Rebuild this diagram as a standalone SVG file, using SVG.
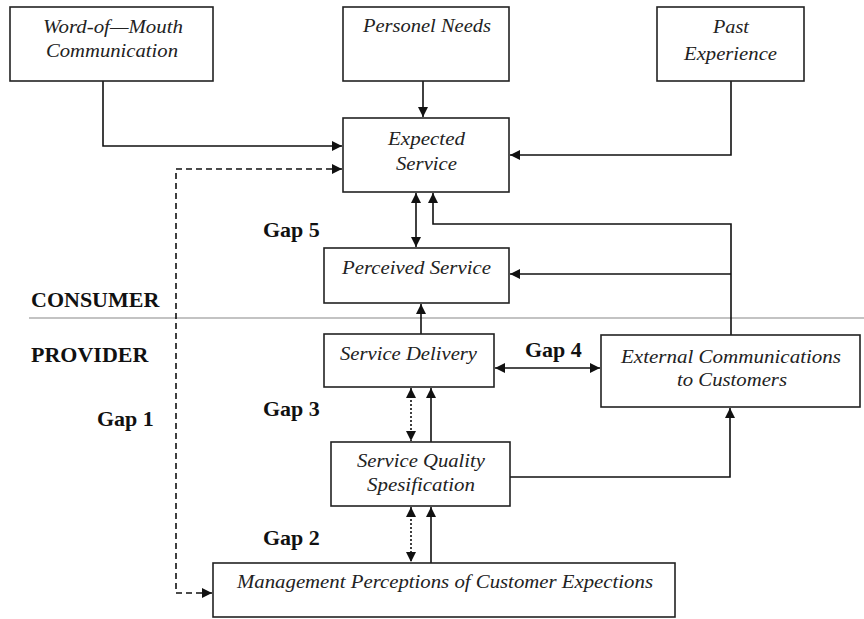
<svg xmlns="http://www.w3.org/2000/svg" width="864" height="619" viewBox="0 0 864 619">
<defs>
<marker id="ah" viewBox="0 0 10 10" refX="10" refY="5" markerWidth="10" markerHeight="10" markerUnits="userSpaceOnUse" orient="auto-start-reverse">
<path d="M0,0 L10,5 L0,10 z" fill="#111"/>
</marker>
<style>
.box{fill:#fff;stroke:#222;stroke-width:1.6}
.t{font-family:"Liberation Serif","Times New Roman",serif;font-style:italic;font-size:19px;fill:#222;text-anchor:middle}
.b{font-family:"Liberation Serif","Times New Roman",serif;font-weight:bold;font-size:22px;fill:#111}
.c{fill:none;stroke:#111;stroke-width:1.6}
.dash{stroke-dasharray:6,4}
.dot{stroke-dasharray:2,2}
</style>
</defs>
<rect width="864" height="619" fill="#fff"/>
<line x1="29" y1="318" x2="864" y2="318" stroke="#888" stroke-width="1.2"/>
<g id="connectors">
<path class="c" d="M103,81 V146 H342" marker-end="url(#ah)"/>
<path class="c" d="M423,81 V117" marker-end="url(#ah)"/>
<path class="c" d="M731,81 V155 H510" marker-end="url(#ah)"/>
<path class="c dash" d="M342,169 H176 V593 H212" marker-start="url(#ah)" marker-end="url(#ah)"/>
<path class="c" d="M416,193 V247" marker-start="url(#ah)" marker-end="url(#ah)"/>
<path class="c" d="M731,335 V224 H433 V193" marker-end="url(#ah)"/>
<path class="c" d="M731,274 H510" marker-end="url(#ah)"/>
<path class="c" d="M421,334 V304" marker-end="url(#ah)"/>
<path class="c" d="M495,368 H600" marker-start="url(#ah)" marker-end="url(#ah)"/>
<path class="c dot" d="M411,388 V441" marker-start="url(#ah)" marker-end="url(#ah)"/>
<path class="c" d="M431,442 V388" marker-end="url(#ah)"/>
<path class="c dot" d="M411,507 V562" marker-start="url(#ah)" marker-end="url(#ah)"/>
<path class="c" d="M431,563 V507" marker-end="url(#ah)"/>
<path class="c" d="M510,477 H730 V408" marker-end="url(#ah)"/>
</g>
<g id="word-of-mouth">
<rect class="box" x="10" y="7" width="203" height="74"/>
<text class="t" x="113" y="33" textLength="140" lengthAdjust="spacingAndGlyphs">Word-of—Mouth</text>
<text class="t" x="112" y="57" textLength="132" lengthAdjust="spacingAndGlyphs">Communication</text>
</g>
<g id="personel-needs">
<rect class="box" x="343" y="7" width="166" height="74"/>
<text class="t" x="427" y="32" textLength="128" lengthAdjust="spacingAndGlyphs">Personel Needs</text>
</g>
<g id="past-experience">
<rect class="box" x="657" y="7" width="147" height="74"/>
<text class="t" x="731" y="33" textLength="36" lengthAdjust="spacingAndGlyphs">Past</text>
<text class="t" x="730.5" y="60" textLength="93" lengthAdjust="spacingAndGlyphs">Experience</text>
</g>
<g id="expected-service">
<rect class="box" x="343" y="118" width="166" height="74"/>
<text class="t" x="426.5" y="145" textLength="77" lengthAdjust="spacingAndGlyphs">Expected</text>
<text class="t" x="426.5" y="170" textLength="61" lengthAdjust="spacingAndGlyphs">Service</text>
</g>
<g id="perceived-service">
<rect class="box" x="324" y="248" width="185" height="55"/>
<text class="t" x="416.5" y="274" textLength="149" lengthAdjust="spacingAndGlyphs">Perceived Service</text>
</g>
<g id="service-delivery">
<rect class="box" x="324" y="334" width="170" height="53"/>
<text class="t" x="408.5" y="360" textLength="137" lengthAdjust="spacingAndGlyphs">Service Delivery</text>
</g>
<g id="external-communications">
<rect class="box" x="601" y="335" width="259" height="72"/>
<text class="t" x="731" y="363" textLength="220" lengthAdjust="spacingAndGlyphs">External Communications</text>
<text class="t" x="732" y="386" textLength="110" lengthAdjust="spacingAndGlyphs">to Customers</text>
</g>
<g id="service-quality">
<rect class="box" x="331" y="442" width="179" height="64"/>
<text class="t" x="421" y="467" textLength="128" lengthAdjust="spacingAndGlyphs">Service Quality</text>
<text class="t" x="421" y="491" textLength="108" lengthAdjust="spacingAndGlyphs">Spesification</text>
</g>
<g id="management">
<rect class="box" x="213" y="563" width="462" height="54"/>
<text class="t" x="445" y="588" textLength="416" lengthAdjust="spacingAndGlyphs">Management Perceptions of Customer Expections</text>
</g>
<g id="labels">
<text class="b" x="31" y="307">CONSUMER</text>
<text class="b" x="31" y="362">PROVIDER</text>
<text class="b" x="263" y="237">Gap 5</text>
<text class="b" x="525" y="357">Gap 4</text>
<text class="b" x="263" y="416">Gap 3</text>
<text class="b" x="97" y="426">Gap 1</text>
<text class="b" x="263" y="545">Gap 2</text>
</g>
</svg>
